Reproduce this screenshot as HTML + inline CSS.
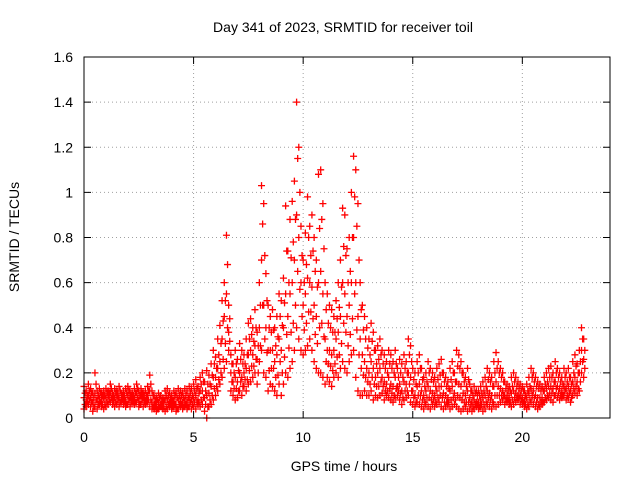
<!DOCTYPE html>
<html><head><meta charset="utf-8"><style>
body{margin:0;background:#fff}
svg{display:block;font-family:"Liberation Sans",sans-serif}
</style></head><body>
<svg id="chart" width="640" height="480">
<rect width="640" height="480" fill="#fff"/>
<g id="grid"></g>
<g id="pts"></g>
<rect x="84" y="57" width="526" height="361" fill="none" stroke="#000" stroke-width="1"/>
<g id="ticks"></g>
<text x="343" y="32" font-size="14" text-anchor="middle">Day 341 of 2023, SRMTID for receiver toil</text>
<text x="344" y="471" font-size="14" text-anchor="middle">GPS time / hours</text>
<text x="0" y="0" font-size="14" text-anchor="middle" transform="translate(19,237) rotate(-90)">SRMTID / TECUs</text>
</svg>
<script>
const xTicks=[0,5,10,15,20];
const xTickLabels=["0","5","10","15","20"];
const yTicks=[0,0.2,0.4,0.6,0.8,1,1.2,1.4,1.6];
const yTickLabels=["0","0.2","0.4","0.6","0.8","1","1.2","1.4","1.6"];
const tStart=0, tStep=0.1, tOffset2=0.05;
const hiVals=[14,12,15,13,11,20,12,13,11,12,13,12,15,11,13,12,14,11,12,13,14,12,11,13,15,12,13,11,12,14,19,12,10,9,11,10,9,12,13,11,10,12,11,13,12,11,13,12,14,13,15,17,14,18,20,16,21,19,24,30,27,35,41,52,60,81,50,28,24,30,26,33,30,28,35,42,44,40,48,38,60,103,95,64,50,45,48,40,45,55,52,62,94,74,88,96,105,140,120,85,70,82,98,85,90,80,70,108,110,95,60,55,50,48,45,52,60,70,93,90,75,80,100,116,110,95,60,50,45,40,35,42,38,30,32,35,30,28,25,30,28,25,30,22,26,24,28,25,35,32,22,20,25,28,22,18,20,25,22,20,18,22,24,26,20,18,16,22,25,20,30,28,25,20,18,22,15,12,14,12,12,14,16,18,22,20,18,25,29,25,22,20,16,15,14,18,20,18,16,15,14,12,15,18,22,20,18,16,15,14,18,20,22,23,20,25,22,20,18,22,20,22,18,25,28,24,30,40,35];
const midVals=[9,8,10,9,7,11,8,9,8,9,9,10,11,8,9,10,9,10,9,8,10,9,8,9,11,8,10,9,8,10,12,7,6,6,7,6,7,8,8,7,7,8,6,8,8,7,8,7,9,8,9,10,8,12,12,9,10,11,14,18,18,22,25,35,45,55,38,20,16,18,16,20,18,20,22,28,30,28,32,26,40,70,50,40,30,30,30,25,28,35,30,40,55,45,55,60,70,90,80,60,50,55,62,60,58,50,45,60,65,55,35,30,30,28,30,35,38,45,60,55,45,50,60,80,60,45,35,28,25,22,20,25,22,18,20,22,18,16,15,18,15,14,18,14,15,12,16,15,20,18,12,10,14,15,12,10,12,14,12,11,10,12,14,14,11,10,9,12,14,11,16,15,14,11,10,12,9,7,8,7,7,8,9,10,12,11,10,14,16,14,13,12,10,10,9,11,12,11,10,10,9,8,9,11,13,12,10,9,9,9,12,13,14,14,13,16,14,13,12,14,13,14,12,16,18,16,20,30,26];
const loVals=[4,5,6,5,3,5,4,6,5,4,5,6,7,6,5,6,5,7,6,5,6,5,7,6,7,5,6,5,6,7,5,4,4,3,4,5,4,3,4,5,4,5,3,4,5,4,5,4,5,4,5,4,6,5,6,3,0,5,6,8,10,12,15,18,22,25,30,12,10,8,9,12,10,14,12,15,16,18,20,15,25,30,20,18,12,15,14,12,10,15,10,15,20,18,22,25,30,40,35,30,28,30,32,35,30,25,22,20,20,18,15,18,16,14,18,20,18,22,25,22,20,25,28,30,18,12,10,10,12,10,10,12,8,10,9,10,11,8,10,9,8,7,9,10,8,6,8,9,10,7,6,5,7,6,5,4,6,5,4,6,5,6,7,5,4,5,6,4,5,6,5,4,3,4,5,3,4,3,4,5,4,5,3,4,6,5,4,6,5,6,7,8,6,7,6,5,6,7,8,6,6,5,4,5,7,6,5,4,5,6,7,8,9,8,7,10,9,8,9,10,8,9,7,10,11,10,12,20,18];
const upperVals=[11,10,12,11,9,15,10,11,10,10,11,11,13,10,11,11,12,10,10,11,12,10,10,11,13,10,11,10,10,12,15,10,8,8,9,8,8,10,10,9,8,10,9,10,10,9,10,9,11,10,12,13,11,15,16,12,15,15,19,24,22,28,33,43,52,68,44,24,20,24,21,26,24,24,28,35,37,34,40,32,50,86,72,52,40,38,39,32,36,45,41,51,74,60,71,78,88,115,100,72,60,68,80,72,74,65,58,84,88,75,48,42,40,38,38,44,49,58,76,72,60,65,80,98,85,70,48,39,35,31,28,34,30,24,26,28,24,22,20,24,22,20,24,18,20,18,22,20,28,25,17,15,20,22,17,14,16,20,17,16,14,17,19,20,16,14,13,17,20,16,23,22,20,16,14,17,12,10,11,10,10,11,12,14,17,16,14,20,22,20,18,16,13,12,12,14,16,14,13,12,12,10,12,14,18,16,14,13,12,12,15,16,18,18,16,20,18,16,15,18,16,18,15,20,23,20,25,35,30];
const lowerVals=[6,7,8,7,5,8,6,7,6,6,7,8,9,7,7,8,7,8,7,6,8,7,7,7,9,6,8,7,7,8,8,5,5,4,5,5,5,5,6,6,5,6,4,6,6,5,6,5,7,6,7,7,7,8,9,6,5,8,10,13,14,17,20,26,33,40,34,16,13,13,12,16,14,17,17,21,23,23,26,20,32,50,35,29,21,22,22,18,19,25,20,27,37,31,38,42,50,65,57,45,39,42,47,47,44,37,33,40,42,36,25,24,23,21,24,27,28,33,42,38,32,37,44,55,39,28,22,19,18,16,15,18,15,14,14,16,14,12,12,13,11,10,13,12,11,9,12,12,15,12,9,7,10,10,8,7,9,9,8,8,7,9,10,9,7,7,7,8,9,8,10,9,8,7,7,7,6,5,6,6,5,6,6,7,9,8,7,10,10,10,10,10,8,8,7,8,9,9,9,8,7,6,6,8,10,9,7,6,7,7,9,10,11,11,10,13,11,10,10,12,10,11,9,13,14,13,16,25,22];
const L=84,R=610,T=57,B=418,xMax=24,yMax=1.6;
const xs=v=>L+(R-L)*v/xMax, ys=v=>B-(B-T)*v/yMax;
const NS="http://www.w3.org/2000/svg";
const grid=document.getElementById('grid'),ticks=document.getElementById('ticks'),pts=document.getElementById('pts');
function mk(tag,a,p){const e=document.createElementNS(NS,tag);for(const k in a)e.setAttribute(k,a[k]);p.appendChild(e);return e;}
yTicks.forEach((v,i)=>{const y=ys(v);
 if(i>0&&i<yTicks.length-1){const g=mk('line',{x1:L,x2:R,y1:y,y2:y,stroke:'#a0a0a0','stroke-dasharray':'1,3'},grid);
 
 }
 const t1=mk('path',{d:`M${L},${y}h7M${R},${y}h-7`,stroke:'#000'},ticks);
 
 
 const tx=mk('text',{x:L-11,y:y+5,'font-size':14,'text-anchor':'end'},ticks);tx.textContent=yTickLabels[i];
 
 });
xTicks.forEach((v,i)=>{const x=xs(v);
 if(i>0){const g=mk('line',{x1:x,x2:x,y1:T,y2:B,stroke:'#a0a0a0','stroke-dasharray':'1,3'},grid);
 
 }
 const t1=mk('path',{d:`M${x},${B}v-7M${x},${T}v7`,stroke:'#000'},ticks);
 
 
 const tx=mk('text',{x:x,y:B+24,'font-size':14,'text-anchor':'middle'},ticks);tx.textContent=xTickLabels[i];
 
 });
let d='';
function addSeries(arr,off){arr.forEach((v,i)=>{const x=xs(tStart+off+i*tStep),y=ys(v/100);d+=`M${x-3.5},${y}h7M${x},${y-3.5}v7`;});}
addSeries(hiVals,0);addSeries(midVals,0);addSeries(loVals,0);
addSeries(upperVals,tOffset2);addSeries(lowerVals,tOffset2);
const p=mk('path',{d:d,stroke:'#ff0000','stroke-width':1.3,fill:'none'},pts);


</script>
</body></html>
